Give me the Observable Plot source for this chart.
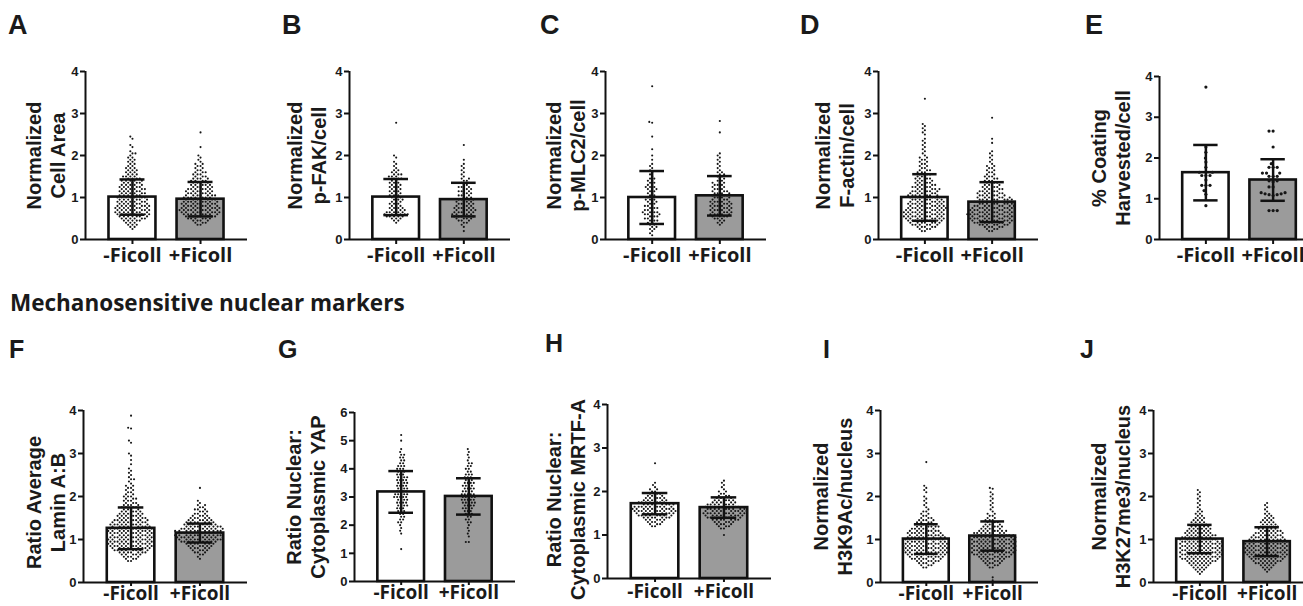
<!DOCTYPE html>
<html><head><meta charset="utf-8">
<script src="https://cdn.jsdelivr.net/npm/d3@7"></script>
<script src="https://cdn.jsdelivr.net/npm/@observablehq/plot@0.6"></script>
<style>
html,body{margin:0;padding:0;background:#fff;}
body{width:1303px;height:606px;overflow:hidden;position:relative;font-family:"Liberation Sans",Arial,sans-serif;color:#111;}
.letter{position:absolute;font-family:"Liberation Sans",Arial,sans-serif;font-weight:bold;line-height:1;color:#1a1a1a;}
.section{position:absolute;font-family:"Open Sans",sans-serif;font-weight:bold;font-size:22.5px;line-height:1;color:#1a1a1a;white-space:nowrap;}
.panel{position:absolute;}
.panel svg{position:absolute;left:0;top:0;}
</style></head><body>
<script>
// ---------------- DATA ----------------
const conditions = ["-Ficoll", "+Ficoll"];
const letters = ["A","B","C","D","E","F","G","H","I","J"];
const sectionTitle = "Mechanosensitive nuclear markers";
const yTitles = [
  "Normalized\nCell Area",
  "Normalized\np-FAK/cell",
  "Normalized\np-MLC2/cell",
  "Normalized\nF-actin/cell",
  "% Coating\nHarvested/cell",
  "Ratio Average\nLamin A:B",
  "Ratio Nuclear:\nCytoplasmic YAP",
  "Ratio Nuclear:\nCytoplasmic MRTF-A",
  "Normalized\nH3K9Ac/nucleus",
  "Normalized\nH3K27me3/nucleus"
];
const yTicks = [
  [0,1,2,3,4],[0,1,2,3,4],[0,1,2,3,4],[0,1,2,3,4],[0,1,2,3,4],
  [0,1,2,3,4],[0,1,2,3,4,5,6],[0,1,2,3,4],[0,1,2,3,4],[0,1,2,3,4]
];
// bar heights (mean) and error bars (SD)
const meanMinus = [1.01, 1.01, 1.00, 1.00, 1.64, 1.26, 3.18, 1.72, 1.01, 1.01];
const sdMinus   = [0.42, 0.43, 0.63, 0.555, 0.68, 0.485, 0.74, 0.245, 0.345, 0.33];
const meanPlus  = [0.96, 0.95, 1.04, 0.89, 1.46, 1.15, 3.02, 1.63, 1.08, 0.95];
const sdPlus    = [0.41, 0.40, 0.47, 0.475, 0.51, 0.22, 0.645, 0.235, 0.34, 0.335];

// individual points, read as counts per value bin (bin width binStep, first bin at start), plus isolated points
const binStep = [0.05, 0.05, 0.05, 0.05, 0.05, 0.05, 0.1, 0.05, 0.05, 0.05];
const startMinus = [0.25, 0.40, 0.10, 0.20, 0, 0.50, 1.70, 1.20, 0.35, 0.20];
const countsMinus = [
  [1,2,3,3,5,6,7,8,8,8,8,8,7,7,7,7,6,6,6,6,6,5,5,5,4,4,3,3,3,3,2,2,2,2,2,1,2,1,0,1,1,0,0,1],
  [1,2,3,5,6,5,4,4,3,3,3,3,3,3,3,3,3,3,3,3,2,3,3,3,2,2,1,1,1,1,0,1,1],
  [1,1,1,2,2,2,2,3,3,3,4,4,3,3,3,2,3,3,2,2,2,2,3,3,2,2,2,2,1,1,1,1,1,1,1],
  [2,3,5,6,7,8,9,9,9,9,9,9,8,8,8,7,7,7,6,6,6,5,5,4,4,4,3,3,3,3,2,2,2,2,2,2,1,1,1,1,1,1,1,1,1,0,1,1,1,1,1],
  [],
  [2,3,4,5,7,8,9,10,10,10,10,10,10,10,10,10,9,9,8,8,7,6,6,5,4,4,4,3,3,3,3,2,2,2,2,2,1,1,2,1,1,1,1,1,0,1,0,1,0,1,1,0,0,0,0,1],
  [1,1,1,1,2,2,2,2,3,3,4,4,4,5,5,4,4,4,4,4,4,3,3,3,3,2,2,2,2,1,1],
  [2,3,4,5,7,8,9,10,10,9,8,7,6,5,4,3,2,2,1,1,1],
  [2,3,4,6,7,8,9,10,10,10,10,10,9,9,9,8,8,7,6,6,5,4,4,3,2,2,2,1,1,1,1,1,1,1,0,1,1,1,1],
  [1,2,3,4,5,6,8,9,10,10,10,10,10,10,10,10,9,8,8,7,6,6,5,4,4,3,3,2,2,2,1,1,1,1,1,1,1,1,1,1]
];
const extraMinus = [
  [2.45],
  [2.78],
  [1.9, 2.0, 2.15, 2.45, 2.78, 2.8, 3.65],
  [2.75, 3.35],
  [3.74, 2.27, 2.14, 2.0, 1.9, 1.77, 1.65, 1.65, 1.57, 1.57, 1.57, 1.46, 1.33, 1.33, 1.33, 1.2, 1.11, 0.83],
  [3.3, 3.58, 3.6, 3.88],
  [1.15, 5.0, 5.2],
  [2.65],
  [2.8],
  []
];
const startPlus = [0.35, 0.30, 0.35, 0.20, 0, 0.55, 1.40, 1.15, 0.35, 0.25];
const countsPlus = [
  [2,3,4,6,7,8,9,9,9,8,8,8,7,7,7,6,6,6,5,5,4,4,4,3,3,3,2,2,2,2,1,1,1,1],
  [1,1,2,3,4,5,5,5,5,5,4,4,4,4,3,3,3,3,3,3,2,2,2,2,1,1,1,1,1,1,1],
  [1,2,2,3,4,5,5,5,5,5,5,5,4,4,4,4,4,3,3,3,3,2,2,2,2,2,1,1,1,1,1,1,1,1,1],
  [2,3,5,7,8,9,9,10,10,10,9,9,9,8,8,8,7,6,6,5,5,4,4,3,3,3,3,2,2,2,2,2,1,1,1,1,1,1,1],
  [],
  [1,1,2,3,4,5,6,7,9,10,11,11,11,11,10,9,8,7,6,5,4,3,3,3,2,2,1,1],
  [2,0,1,1,1,1,1,2,2,2,3,3,4,4,5,5,5,5,4,4,4,4,3,3,3,2,2,2,2,1,1,1,1,1],
  [2,3,4,5,7,8,9,10,10,9,8,7,6,5,4,3,2,2,1,1,1,1],
  [2,3,4,5,6,8,9,10,10,10,10,10,10,10,10,9,8,7,5,5,4,3,3,2,2,2,1,1,1,1,1,1,1,1,1,1],
  [1,2,3,4,6,7,8,9,10,10,10,10,10,10,9,9,8,7,7,6,5,5,4,4,3,3,2,2,1,1,1,1,1]
];
const extraPlus = [
  [2.2, 2.55],
  [0.2, 1.9, 2.25],
  [2.55, 2.82],
  [2.3, 2.4, 2.9],
  [2.66, 2.66, 2.27, 1.86, 1.77, 1.77, 1.77, 1.63, 1.63, 1.63, 1.55, 1.55, 1.55, 1.44, 1.44, 1.42, 1.29, 1.29, 1.15, 1.12, 1.1, 1.08, 1.1, 1.12, 1.15, 0.71, 0.71, 0.71],
  [2.2],
  [],
  [1.0, 2.25],
  [0.05, 0.12, 2.18, 2.2],
  []
];

// ---------------- LAYOUT (pixels) ----------------
const layout = [
  {x: 85,   top: 71,  bottom: 239, len: 162, tdx: -40, tdy: 0, r: 1.05, fxTick: 5, fxPad: 3, fxFont: 20},
  {x: 349,  top: 71,  bottom: 239, len: 161, tdx: -43, tdy: 0, r: 1.05, fxTick: 5, fxPad: 3, fxFont: 20},
  {x: 605,  top: 71,  bottom: 239, len: 161, tdx: -40, tdy: 0, r: 1.05, fxTick: 5, fxPad: 3, fxFont: 20},
  {x: 878,  top: 71,  bottom: 239, len: 160, tdx: -44, tdy: 0, r: 1.05, fxTick: 5, fxPad: 3, fxFont: 20},
  {x: 1159, top: 76,  bottom: 239, len: 160, tdx: -49, tdy: 0, r: 1.6,  fxTick: 5, fxPad: 3, fxFont: 20},
  {x: 83,   top: 410, bottom: 582, len: 164, tdx: -38, tdy: 6, r: 1.05, fxTick: 4, fxPad: 0, fxFont: 19},
  {x: 354,  top: 412, bottom: 581, len: 161, tdx: -49, tdy: 0, r: 1.05, fxTick: 4, fxPad: 0, fxFont: 19},
  {x: 607,  top: 404, bottom: 578, len: 164, tdx: -42, tdy: 8, r: 1.05, fxTick: 4, fxPad: 2, fxFont: 19},
  {x: 880,  top: 410, bottom: 582, len: 158, tdx: -48, tdy: 0, r: 1.05, fxTick: 4, fxPad: 0, fxFont: 19},
  {x: 1153, top: 410, bottom: 582, len: 160, tdx: -43, tdy: 0, r: 1.05, fxTick: 4, fxPad: 0, fxFont: 19}
];
const letterPos = [
  [8, 12, 27], [282, 12, 27], [540, 12, 27], [800, 12, 27], [1085, 12, 27],
  [9, 337, 25], [278, 337, 25], [545, 331, 25], [823, 337, 25], [1080, 337, 25]
];

const ML = 80, MR = 2, MT = 12, MB = 40;
const FONT = '"Liberation Sans", Arial, sans-serif';

function drawPanel(i) {
  const lay = layout[i];
  const W = ML + lay.len + MR;
  const H = MT + (lay.bottom - lay.top) + MB;
  const means = [meanMinus[i], meanPlus[i]];
  const sds = [sdMinus[i], sdPlus[i]];
  const summary = conditions.map((c, j) => ({cond: c, mean: means[j], sd: sds[j]}));
  const starts = [startMinus[i], startPlus[i]];
  const counts = [countsMinus[i], countsPlus[i]];
  const extras = [extraMinus[i], extraPlus[i]];
  const points = [];
  conditions.forEach((c, j) => {
    counts[j].forEach((n, k) => {
      const v = Math.round((starts[j] + k * binStep[i]) * 1000) / 1000;
      for (let m = 0; m < n; m++) points.push({cond: c, v});
    });
    extras[j].forEach(v => points.push({cond: c, v}));
  });
  points.sort((a, b) => a.v - b.v);
  const ticks = yTicks[i];
  const yDomain = [ticks[0], ticks[ticks.length - 1]];
  const common = {
    width: W, height: H,
    marginLeft: ML, marginRight: MR, marginTop: MT, marginBottom: MB,
    style: {fontFamily: FONT, color: "#111", background: "none", overflow: "visible"}
  };
  // bars, points, error bars, category axis
  const content = Plot.plot({
    ...common,
    fx: {domain: conditions, paddingInner: 0.31, paddingOuter: 0.345, round: false},
    y: {domain: yDomain, axis: null},
    color: {domain: conditions, range: ["#ffffff", "#9b9b9b"]},
    marks: [
      Plot.barY(summary, {fx: "cond", y: "mean", fill: "cond", stroke: "#111", strokeWidth: 2.6}),
      Plot.dot(points, Plot.dodgeX({anchor: "middle", padding: 0.9}, {fx: "cond", y: "v", r: lay.r, fill: "#151515", stroke: "none"})),
      Plot.ruleX(summary, {fx: "cond", x: null, y1: d => d.mean - d.sd, y2: d => d.mean + d.sd, stroke: "#111", strokeWidth: 2.5}),
      Plot.tickY(summary, {fx: "cond", y: d => d.mean + d.sd, insetLeft: 11, insetRight: 11, stroke: "#111", strokeWidth: 2.5}),
      Plot.tickY(summary, {fx: "cond", y: d => d.mean - d.sd, insetLeft: 11, insetRight: 11, stroke: "#111", strokeWidth: 2.5}),
      Plot.axisFx({anchor: "bottom", tickSize: lay.fxTick, tickPadding: lay.fxPad, stroke: "#111", strokeWidth: 2, fontSize: lay.fxFont, fontWeight: "bold", fontFamily: '"Open Sans", sans-serif', fill: "#1a1a1a", label: null})
    ]
  });
  // value axis, axis lines and axis title
  const axes = Plot.plot({
    ...common,
    style: {...common.style, fontSize: "13px", fontWeight: "bold"},
    x: {domain: [0, 1], axis: null},
    y: {domain: yDomain, axis: null},
    marks: [
      Plot.ruleY([0], {stroke: "#111", strokeWidth: 2}),
      Plot.ruleX([0], {y1: yDomain[0], y2: yDomain[1], stroke: "#111", strokeWidth: 2}),
      Plot.axisY({ticks, tickFormat: d3.format("d"), tickSize: 5, tickPadding: 2, stroke: "#111", strokeWidth: 2, fontSize: 13, fontWeight: "bold", fill: "#1a1a1a", label: null}),
      Plot.text([yTitles[i]], {frameAnchor: "left", rotate: -90, dx: lay.tdx, dy: lay.tdy, fontSize: 20, fontWeight: "bold", lineHeight: 1.2, lineAnchor: "middle", textAnchor: "middle", fill: "#1a1a1a"})
    ]
  });
  const div = document.createElement("div");
  div.className = "panel";
  div.style.left = (lay.x - ML) + "px";
  div.style.top = (lay.top - MT) + "px";
  div.style.width = W + "px";
  div.style.height = H + "px";
  div.appendChild(content);
  div.appendChild(axes);
  document.body.appendChild(div);
}

letters.forEach((L, i) => {
  drawPanel(i);
  const d = document.createElement("div");
  d.className = "letter";
  d.textContent = L;
  d.style.left = letterPos[i][0] + "px";
  d.style.top = letterPos[i][1] + "px";
  d.style.fontSize = letterPos[i][2] + "px";
  document.body.appendChild(d);
});
const sec = document.createElement("div");
sec.className = "section";
sec.textContent = sectionTitle;
sec.style.left = "10px";
sec.style.top = "292px";
document.body.appendChild(sec);
</script>
</body></html>
